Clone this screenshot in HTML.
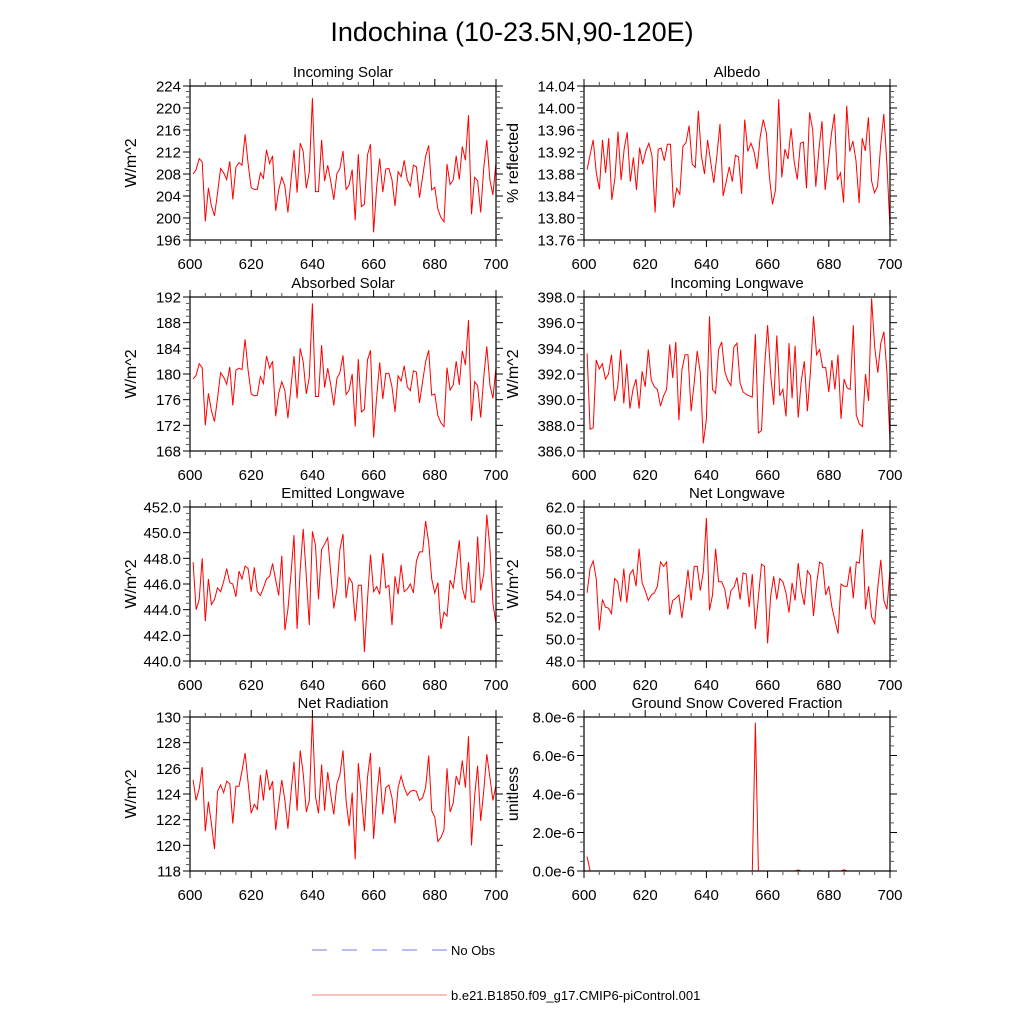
<!DOCTYPE html>
<html><head><meta charset="utf-8"><style>
html,body{margin:0;padding:0;background:#fff;}
svg{display:block;font-family:"Liberation Sans",Arial,sans-serif;}
</style></head><body>
<svg id="chart" width="1024" height="1024" viewBox="0 0 1024 1024">
<text x="512" y="41" font-size="27" text-anchor="middle">Indochina (10-23.5N,90-120E)</text>
<g>
<line x1="312" y1="950" x2="447" y2="950" stroke="#7777ee" stroke-width="1" stroke-dasharray="15,15"/>
<text x="451" y="955" font-size="13">No Obs</text>
<line x1="312" y1="995" x2="447" y2="995" stroke="#f08080" stroke-width="1"/>
<text x="451" y="1000" font-size="13">b.e21.B1850.f09_g17.CMIP6-piControl.001</text>
</g>
</svg>
<script>
const incomingSolar=[208.0,208.8,210.8,210.2,199.4,205.5,202.2,200.4,204.5,209.0,208.2,207.0,210.3,203.4,209.2,210.1,209.6,215.2,209.9,205.5,205.2,205.2,208.2,207.2,212.4,209.9,211.3,201.3,205.1,207.4,205.8,201.0,206.9,212.4,204.6,213.6,212.1,205.4,208.4,221.8,204.8,204.8,214.2,206.7,209.6,206.6,203.3,208.1,209.0,212.2,205.2,206.0,208.8,199.6,211.6,202.1,202.5,211.5,213.4,197.4,205.7,210.8,204.7,208.9,209.0,206.9,202.2,208.4,207.5,210.5,206.9,205.8,209.6,209.3,203.7,207.5,211.2,213.2,205.1,205.6,201.6,200.1,199.3,209.8,206.1,206.9,211.3,207.0,213.0,210.5,218.7,200.7,207.4,206.8,201.0,209.2,214.2,206.9,204.2,210.1];
const albedo=[13.888,13.916,13.942,13.882,13.852,13.942,13.882,13.945,13.833,13.872,13.957,13.869,13.926,13.956,13.866,13.910,13.851,13.928,13.898,13.922,13.936,13.913,13.810,13.925,13.927,13.904,13.934,13.934,13.819,13.854,13.843,13.930,13.937,13.968,13.898,13.892,13.995,13.913,13.880,13.942,13.902,13.864,13.914,13.971,13.840,13.866,13.893,13.866,13.914,13.911,13.844,13.979,13.921,13.936,13.921,13.889,13.948,13.979,13.954,13.875,13.825,13.852,14.016,13.874,13.925,13.907,13.963,13.902,13.870,13.936,13.938,13.854,13.992,13.960,13.857,13.924,13.976,13.851,13.898,13.951,13.989,13.869,13.882,13.828,14.004,13.921,13.940,13.904,13.827,13.945,13.922,13.983,13.868,13.846,13.858,13.933,13.989,13.899,13.781];
const absorbedSolar=[179.2,179.8,181.6,181.0,172.0,177.0,174.3,172.6,176.2,180.2,179.5,178.4,181.1,175.1,180.6,180.9,180.7,185.4,180.6,176.9,176.6,176.7,179.6,178.5,182.8,180.9,182.0,173.4,177.0,178.8,177.4,173.1,178.0,182.8,176.2,184.0,181.9,176.9,179.5,191.0,176.5,176.5,184.5,177.9,180.9,178.3,175.1,179.3,180.2,182.9,176.8,177.5,180.0,171.8,182.3,174.1,174.5,182.2,183.7,170.1,176.5,181.8,176.1,180.1,180.1,178.0,174.1,179.7,178.9,181.3,178.0,177.4,180.5,180.3,175.5,178.8,181.9,183.7,176.7,176.9,173.5,172.4,171.8,181.0,177.5,178.3,182.0,178.3,183.6,181.4,188.4,172.7,178.8,178.2,173.2,179.6,184.3,178.3,176.2,181.0];
const incomingLW=[393.6,387.7,387.8,393.1,392.4,392.8,391.6,392.0,393.5,389.9,391.0,393.9,389.7,392.8,389.3,390.8,391.6,389.3,392.2,391.0,393.9,391.5,391.0,390.8,389.5,390.3,390.8,394.3,391.7,394.5,388.4,392.3,393.5,393.5,389.1,391.3,393.8,392.1,386.6,388.5,396.5,390.8,390.5,393.9,394.5,392.2,391.5,391.1,394.1,394.4,391.3,390.6,390.4,390.3,390.2,395.1,387.4,387.6,392.5,395.8,391.9,389.6,395.0,390.3,390.8,388.7,394.4,390.1,394.2,388.6,391.5,393.0,389.1,392.1,396.5,393.5,393.9,392.5,392.5,390.6,393.1,390.8,393.5,388.5,391.6,390.9,390.8,395.8,388.8,388.1,387.9,392.0,389.9,397.9,394.1,392.1,394.4,395.3,392.2,386.7];
const emittedLW=[447.7,444.0,444.8,448.0,443.1,446.4,444.4,444.8,445.7,445.4,446.2,447.2,446.1,446.0,445.0,447.0,446.4,447.4,447.2,445.4,447.3,445.4,445.1,445.7,446.4,446.6,447.6,446.3,445.1,448.2,442.4,444.0,446.8,449.8,442.5,447.1,450.3,446.6,442.8,450.1,449.0,444.8,448.7,449.1,449.6,446.8,444.1,445.6,448.7,449.9,444.9,446.5,446.1,443.1,445.9,445.9,440.7,444.8,448.3,445.4,445.8,445.2,448.4,445.7,445.9,442.8,446.6,445.2,447.5,445.4,445.6,446.0,445.3,447.8,448.5,448.5,450.9,449.2,446.4,445.3,446.1,442.5,443.8,443.5,446.3,445.7,447.4,449.4,445.7,444.8,447.7,444.6,444.6,449.7,445.5,446.8,451.4,448.8,444.5,442.9];
const netLW=[54.2,56.4,57.1,55.5,50.8,53.6,52.9,52.8,52.3,55.5,55.2,53.4,56.4,53.3,55.9,56.3,54.8,58.2,55.1,54.4,53.5,54.0,54.2,54.8,57.0,56.6,57.0,52.2,53.5,53.7,54.0,51.9,54.0,56.3,53.5,56.6,56.6,54.4,56.1,61.0,52.6,54.0,58.2,55.2,55.2,54.5,52.7,54.4,54.7,55.6,53.6,56.0,55.9,52.9,55.9,50.9,53.8,56.8,56.6,49.6,53.9,55.7,53.6,55.5,55.2,54.2,52.4,55.1,53.5,56.9,54.4,53.1,56.2,55.8,52.1,55.0,57.0,56.8,54.0,54.8,52.9,51.7,50.5,55.0,54.8,54.8,56.6,53.7,57.0,56.9,60.0,52.7,54.8,52.0,51.4,54.7,57.2,53.5,52.7,56.3];
const netRad=[125.1,123.5,124.4,126.1,121.1,123.4,121.7,119.7,124.2,124.7,124.1,125.0,124.8,121.7,124.6,124.6,125.8,127.2,124.9,122.5,123.2,122.8,125.5,123.5,125.9,124.3,125.0,121.2,123.2,125.1,123.5,121.3,124.1,126.5,122.7,127.4,125.6,122.6,123.5,130.0,123.8,122.5,126.3,122.7,125.7,123.9,122.4,124.8,125.5,127.4,123.5,121.5,124.1,118.9,126.4,123.8,121.1,125.3,127.2,120.5,123.8,126.1,122.4,124.5,124.7,123.7,121.7,124.5,125.4,124.5,123.9,124.2,124.3,124.2,123.5,123.7,124.5,127.0,122.7,122.2,120.3,120.6,121.2,126.0,122.6,123.3,125.4,124.7,126.6,124.5,128.5,120.0,123.8,126.2,121.9,124.3,127.1,125.3,123.5,124.7];
const snowYears=[601,602,655,656,657,669,670,671,684,685,686,700];
const snowVals=[0.75e-6,0,0,7.7e-6,0,0,0.05e-6,0,0,0.06e-6,0,0];
const xTicks=[600,620,640,660,680,700];

const panels=[
 {name:'incoming-solar',title:'Incoming Solar',ytitle:'W/m^2',col:0,row:0,vals:incomingSolar,ymin:196,ymax:224,step:4,minor:4,dec:0},
 {name:'albedo',title:'Albedo',ytitle:'% reflected',col:1,row:0,vals:albedo,ymin:13.76,ymax:14.04,step:0.04,minor:4,dec:2},
 {name:'absorbed-solar',title:'Absorbed Solar',ytitle:'W/m^2',col:0,row:1,vals:absorbedSolar,ymin:168,ymax:192,step:4,minor:4,dec:0},
 {name:'incoming-longwave',title:'Incoming Longwave',ytitle:'W/m^2',col:1,row:1,vals:incomingLW,ymin:386,ymax:398,step:2,minor:4,dec:1},
 {name:'emitted-longwave',title:'Emitted Longwave',ytitle:'W/m^2',col:0,row:2,vals:emittedLW,ymin:440,ymax:452,step:2,minor:4,dec:1},
 {name:'net-longwave',title:'Net Longwave',ytitle:'W/m^2',col:1,row:2,vals:netLW,ymin:48,ymax:62,step:2,minor:4,dec:1},
 {name:'net-radiation',title:'Net Radiation',ytitle:'W/m^2',col:0,row:3,vals:netRad,ymin:118,ymax:130,step:2,minor:4,dec:0},
 {name:'snow-fraction',title:'Ground Snow Covered Fraction',ytitle:'unitless',col:1,row:3,xs:snowYears,vals:snowVals,ymin:0,ymax:8e-6,step:2e-6,minor:4,sci:true}
];
const svg=document.getElementById('chart');
const NS='http://www.w3.org/2000/svg';
function mk(tag,attrs,parent){const e=document.createElementNS(NS,tag);for(const k in attrs)e.setAttribute(k,attrs[k]);parent.appendChild(e);return e;}
const colX=[190,584], rowY=[86,297,507,717], W=306, H=154;
panels.forEach(p=>{
 const g=mk('g',{},svg);
 
 
 const L=colX[p.col],T=rowY[p.row],R=L+W,B=T+H;
 const sx=v=>L+(v-600)/100*W;
 const sy=v=>B-(v-p.ymin)/(p.ymax-p.ymin)*H;
 const t=mk('text',{x:L+W/2,y:T-9,'font-size':15,'text-anchor':'middle'},g);t.textContent=p.title;
 
 
 // series
 const n=p.vals.length;
 const pts=p.vals.map((v,i)=>{const yr=p.xs?p.xs[i]:601+i*99/(n-1);return sx(yr).toFixed(1)+','+sy(v).toFixed(1);}).join(' ');
 const pl=mk('polyline',{points:pts,fill:'none',stroke:'#ff0000','stroke-width':1},g);
 
 
 // frame
 const fr=mk('rect',{x:L,y:T,width:W,height:H,fill:'none',stroke:'#000','stroke-width':1.2},g);
 
 
 // y ticks
 const nMaj=Math.round((p.ymax-p.ymin)/p.step);
 for(let i=0;i<=nMaj;i++){
  const v=p.ymin+i*p.step,y=sy(v);
  mk('line',{x1:L-7,y1:y,x2:L,y2:y,stroke:'#000'},g);
  mk('line',{x1:R,y1:y,x2:R+7,y2:y,stroke:'#000'},g);
  const lab=mk('text',{x:L-9,y:y+5.5,'font-size':15,'text-anchor':'end'},g);
  lab.textContent=p.sci?(v/1e-6).toFixed(1)+'e-6':v.toFixed(p.dec);
  
  
  if(i<nMaj)for(let m=1;m<p.minor;m++){const ym=sy(v+m*p.step/p.minor);
   mk('line',{x1:L-4,y1:ym,x2:L,y2:ym,stroke:'#555'},g);
   mk('line',{x1:R,y1:ym,x2:R+4,y2:ym,stroke:'#555'},g);}
 }
 // x ticks
 xTicks.forEach((v,i)=>{const x=sx(v);
  mk('line',{x1:x,y1:B,x2:x,y2:B+7,stroke:'#000'},g);
  mk('line',{x1:x,y1:T-7,x2:x,y2:T,stroke:'#000'},g);
  const lab=mk('text',{x:x,y:B+29,'font-size':15,'text-anchor':'middle'},g);
  lab.textContent=v;
  
  
  if(i<xTicks.length-1)for(let m=1;m<4;m++){const xm=sx(v+m*5);
   mk('line',{x1:xm,y1:B,x2:xm,y2:B+4,stroke:'#555'},g);
   mk('line',{x1:xm,y1:T-4,x2:xm,y2:T,stroke:'#555'},g);}
 });
 const yx=p.col===0?130:512;
 const yt=mk('text',{x:yx,y:T+H/2,'font-size':16,'text-anchor':'middle',transform:'rotate(-90 '+yx+' '+(T+H/2)+')',dy:6},g);
 yt.textContent=p.ytitle;
 
 
});
</script>
</body></html>
